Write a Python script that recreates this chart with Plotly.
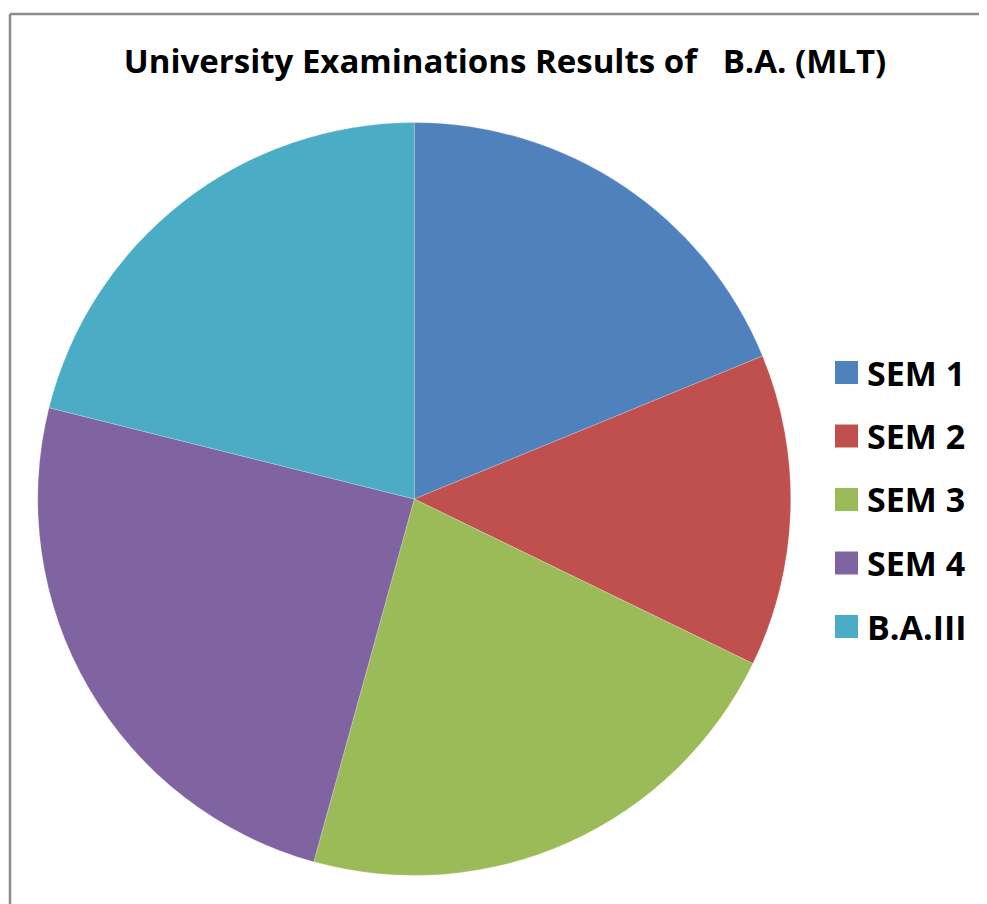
import plotly.graph_objects as go

# page offset: the html body has an 8px margin
OFF = 8
W, H = 987 - OFF, 904 - OFF

categories = ["SEM 1", "SEM 2", "SEM 3", "SEM 4", "B.A.III"]
values = [18.8, 13.4, 22.1, 24.6, 21.1]
colors = ["#4F81BD", "#C0504D", "#9BBB59", "#8064A2", "#4BACC6"]
title_text = "University Examinations Results of   B.A. (MLT)"

FONT = "Open Sans"

def px_x(x):
    return (x - OFF) / W

def px_y(y):
    return 1 - (y - OFF) / H

fig = go.Figure()
fig.add_trace(go.Pie(
    labels=categories,
    values=values,
    marker=dict(colors=colors, line=dict(color="rgba(255,255,255,0.35)", width=0.6)),
    sort=False,
    direction="clockwise",
    rotation=0,
    textinfo="none",
    hoverinfo="label+value",
    showlegend=False,
    domain=dict(x=[px_x(37.5), px_x(791)], y=[px_y(875.5), px_y(122.5)]),
))

shapes = [
    dict(type="line", xref="paper", yref="paper", x0=px_x(10), x1=1.02,
         y0=px_y(14), y1=px_y(14), line=dict(color="#8c8c8c", width=2.5)),
    dict(type="line", xref="paper", yref="paper", x0=px_x(10), x1=px_x(10),
         y0=px_y(14), y1=-0.02, line=dict(color="#8c8c8c", width=2.5)),
]
annotations = []
y0 = 372.5
step = 63.5
for i, (cat, col) in enumerate(zip(categories, colors)):
    yc = y0 + i * step
    shapes.append(dict(type="rect", xref="paper", yref="paper",
                       x0=px_x(835), x1=px_x(858), y0=px_y(yc + 11.5), y1=px_y(yc - 11.5),
                       fillcolor=col, line=dict(width=0)))
    annotations.append(dict(text="<b>%s</b>" % cat, xref="paper", yref="paper",
                            x=px_x(865), y=px_y(yc), xanchor="left", yanchor="middle",
                            showarrow=False, font=dict(family=FONT, size=34, color="#000000")))

fig.update_layout(
    width=W, height=H,
    margin=dict(l=0, r=0, t=0, b=0),
    paper_bgcolor="white",
    plot_bgcolor="white",
    title=dict(text="<b>%s</b>" % title_text, x=px_x(505), y=px_y(61),
               xanchor="center", yanchor="middle",
               font=dict(family=FONT, size=33, color="#000000")),
    shapes=shapes,
    annotations=annotations,
)

fig.write_html("out.html")
